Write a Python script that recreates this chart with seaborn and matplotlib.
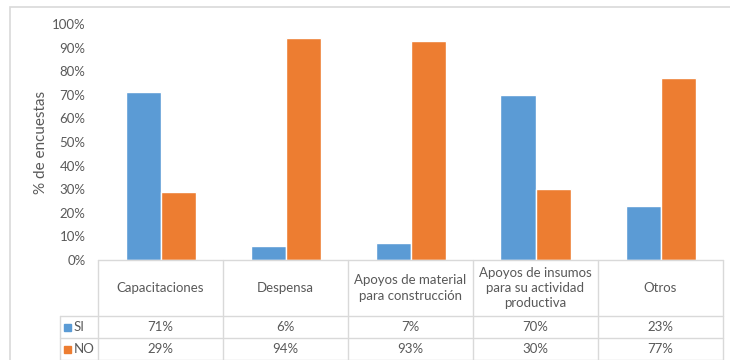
import matplotlib
matplotlib.use("Agg")
import matplotlib.pyplot as plt
import seaborn as sns
import pandas as pd
from matplotlib.patches import Rectangle

categories = ["Capacitaciones", "Despensa", "Apoyos de material\npara construcción",
              "Apoyos de insumos\npara su actividad\nproductiva", "Otros"]
series_names = ["SI", "NO"]
si_values = [71, 6, 7, 70, 23]
no_values = [29, 94, 93, 30, 77]
colors = ["#5B9BD5", "#ED7D31"]
yticks = [0, 10, 20, 30, 40, 50, 60, 70, 80, 90, 100]

sns.set_theme(style="white")
plt.rcParams['font.family'] = ['Lato', 'DejaVu Sans']

W, H = 730, 360
fig = plt.figure(figsize=(W / 100, H / 100), dpi=100)

def px_axes(x0, y0, x1, y1):
    return fig.add_axes([x0 / W, 1 - y1 / H, (x1 - x0) / W, (y1 - y0) / H])

# outer chart border
fig.add_artist(Rectangle((10 / W, -0.1), 1.2, 1 - 7 / H + 0.1, transform=fig.transFigure,
                         fill=False, edgecolor="#d9d9d9", linewidth=1.2))

ax = px_axes(98, 24, 723, 260)
df = pd.DataFrame({
    "cat": categories * 2,
    "serie": [series_names[0]] * len(categories) + [series_names[1]] * len(categories),
    "val": [v / 100 for v in si_values] + [v / 100 for v in no_values],
})
sns.barplot(data=df, x="cat", y="val", hue="serie", hue_order=series_names,
            palette=colors, width=0.56, gap=0, ax=ax, legend=False, saturation=1)
ax.set_xlim(-0.5, len(categories) - 0.5)
ax.set_ylim(0, 1)
ax.set_yticks([t / 100 for t in yticks])
ax.set_yticklabels([f"{t}%" for t in yticks], color="#595959", fontsize=9.5)
ax.tick_params(axis="y", length=0, pad=9)
ax.set_xticks([])
ax.set_xlabel("")
ax.set_ylabel("")
for s in ax.spines.values():
    s.set_visible(False)
fig.text(41 / W, 1 - 142 / H, "% de encuestas", rotation=90, ha="center", va="center",
         fontsize=11, color="#595959")

# data table
tax = px_axes(98, 260, 723, 360)
tax.set_xlim(-0.5, len(categories) - 0.5)
tax.set_ylim(100, 0)
tax.axis("off")
gc = "#d9d9d9"
legx = -0.5 - 38 / 125
for i in range(len(categories) + 1):
    tax.plot([i - 0.5, i - 0.5], [0, 100], color=gc, lw=1, clip_on=False)
tax.plot([-0.5, len(categories) - 0.5], [0, 0], color=gc, lw=1, clip_on=False)
for yy in [56, 78, 99.5]:
    tax.plot([legx, len(categories) - 0.5], [yy, yy], color=gc, lw=1, clip_on=False)
tax.plot([legx, legx], [56, 100], color=gc, lw=1, clip_on=False)
tc = "#595959"
for i, c in enumerate(categories):
    tax.text(i, 28, c, ha="center", va="center", fontsize=9.5, color=tc, linespacing=1.3)
    tax.text(i, 67, f"{si_values[i]}%", ha="center", va="center", fontsize=9.5, color=tc)
    tax.text(i, 89, f"{no_values[i]}%", ha="center", va="center", fontsize=9.5, color=tc)
for r, (name, col) in enumerate(zip(series_names, colors)):
    yy = 67 + 22 * r
    tax.add_patch(Rectangle((legx + 4 / 125, yy - 3.5), 7 / 125, 7, color=col, clip_on=False))
    tax.text(legx + 14 / 125, yy, name, ha="left", va="center", fontsize=9.5, color=tc)

fig.savefig("out.png", dpi=100)
